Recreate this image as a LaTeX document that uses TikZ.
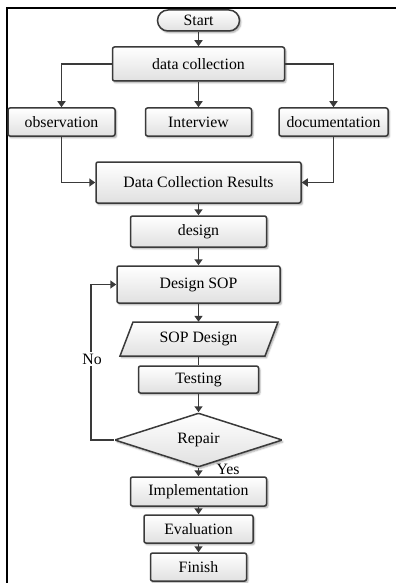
\documentclass[tikz,border=0pt]{standalone}
\usepackage{fontspec}
\setmainfont{Liberation Serif}
\usetikzlibrary{arrows.meta,shapes.geometric,shadows.blur}
\definecolor{edge}{HTML}{3A3A3A}
\tikzset{
  box/.style={draw=edge, line width=1.5pt, rounded corners=2pt,
    top color=white, bottom color=black!12,
    blur shadow={shadow xshift=1.5pt, shadow yshift=-1.8pt, shadow blur radius=1.6pt, shadow opacity=35},
    inner sep=0pt, font=\fontsize{15.8}{17}\selectfont},
  txt/.style={inner sep=0pt, font=\fontsize{15.8}{17}\selectfont},
  arr/.style={draw=edge, line width=1.5pt, -{Triangle[width=8pt,length=6pt]}},
  ln/.style={draw=edge, line width=1.5pt}
}
\begin{document}
\begin{tikzpicture}[x=1pt,y=-1pt]
\useasboundingbox (0,0) rectangle (396,583);
\draw[line width=1.5pt] (7,583) -- (7,8) -- (396,8);

\node[box, rounded corners=10.5pt, minimum width=82, minimum height=21] (start) at (198.5,20.5) {Start};
\node[box, minimum width=172, minimum height=34] (dc) at (198.5,64) {data collection};
\node[box, minimum width=107, minimum height=28] (obs) at (61.5,122) {observation};
\node[box, minimum width=106, minimum height=28] (int) at (198.5,122) {Interview};
\node[box, minimum width=109, minimum height=28] (doc) at (333.5,122) {documentation};
\node[box, minimum width=205, minimum height=41] (dcr) at (198.5,182.5) {Data Collection Results};
\node[box, minimum width=136, minimum height=31] (des) at (198.5,231.5) {design};
\node[box, minimum width=163, minimum height=37] (dsop) at (198.5,284.5) {Design SOP};
\draw[draw=edge, line width=1.5pt, top color=white, bottom color=black!12,
  blur shadow={shadow xshift=1.5pt, shadow yshift=-1.8pt, shadow blur radius=1.6pt, shadow opacity=35}]
  (133,322) -- (278,322) -- (265,356) -- (120,356) -- cycle;
\node[txt, minimum width=145, minimum height=34] (sopd) at (198.5,339) {SOP Design};
\node[box, minimum width=120, minimum height=27] (test) at (198.5,379.5) {Testing};
\node[box, shape=diamond, rounded corners=1pt, aspect=3.1, minimum width=168, minimum height=54] (rep) at (198.5,440) {Repair};
\node[box, minimum width=136, minimum height=29] (impl) at (198.5,491.5) {Implementation};
\node[box, minimum width=109, minimum height=28] (eval) at (198.5,529) {Evaluation};
\node[box, minimum width=96, minimum height=28] (fin) at (198.5,567) {Finish};

\draw[arr] (start) -- (dc);
\draw[arr] (dc.west) -| (obs.north);
\draw[arr] (dc) -- (int);
\draw[arr] (dc.east) -| (doc.north);
\draw[arr] (obs.south) |- (dcr.west);
\draw[arr] (doc.south) |- (dcr.east);
\draw[arr] (dcr) -- (des);
\draw[arr] (des) -- (dsop);
\draw[arr] (dsop) -- (sopd.north);
\draw[ln] (sopd.south) -- (test);
\draw[arr] (test) -- (rep);
\draw[arr] (rep.south) -- (impl);
\draw[arr] (impl) -- (eval);
\draw[arr] (eval) -- (fin);
\coordinate (lb) at (91,440);
\coordinate (lt) at (91,284.5);
\draw[arr] (rep.west) -- (lb) -- (lt) -- (dsop.west);
\node[txt, fill=white, inner sep=2pt] (no) at (92,359) {No};
\node[txt] (yes) at (228,469) {Yes};
\end{tikzpicture}
\end{document}
